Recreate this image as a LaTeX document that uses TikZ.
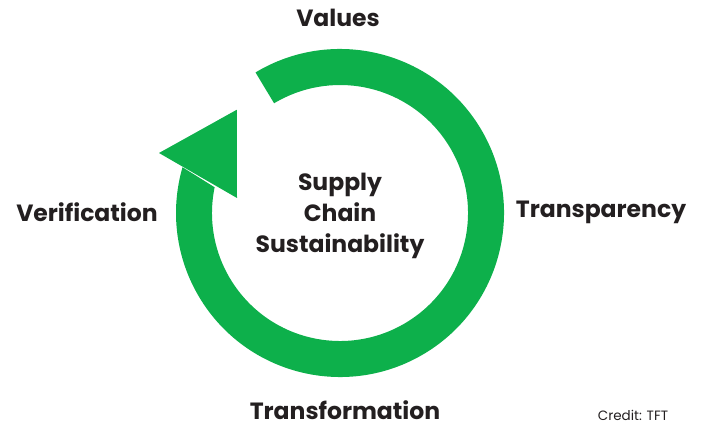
\documentclass[tikz,border=0pt]{standalone}
\usepackage{fontspec}
\setmainfont{Poppins}
\usepackage{xcolor}
\definecolor{ringgreen}{RGB}{13,176,75}
\definecolor{labelgray}{RGB}{35,31,32}

\begin{document}
\begin{tikzpicture}[x=1pt,y=1pt,
  lbl/.style={font=\fontsize{23.5}{26}\selectfont\bfseries, text=labelgray, inner sep=0pt},
  credit/.style={font=\fontsize{13.5}{15}\selectfont, text=labelgray, inner sep=0pt}]
  \useasboundingbox (0,0) rectangle (701,426);
  % the cycle
  \begin{scope}[shift={(340,213)}]
    \fill[ringgreen] (121:164) arc[start angle=121, end angle=-196.2, radius=164]
      -- (168.4:128) arc[start angle=-191.6, end angle=121, radius=128] -- cycle;
    \fill[ringgreen] (135:146) -- (-181,60) -- (-103,15) -- cycle;
  \end{scope}
  % labels
  \node[lbl] (values) at (338,408) {Values};
  \node[lbl] (verification) at (87,214) {Verification};
  \node[lbl] (transparency) at (601,214) {Transparency};
  \node[lbl] (transformation) at (345,16) {Transformation};
  \node[lbl, align=center, font=\fontsize{23.5}{31}\selectfont\bfseries] (scs) at (340,210) {Supply\\Chain\\Sustainability};
  \node[credit] (credit) at (633,11) {Credit: TFT};
\end{tikzpicture}
\end{document}
